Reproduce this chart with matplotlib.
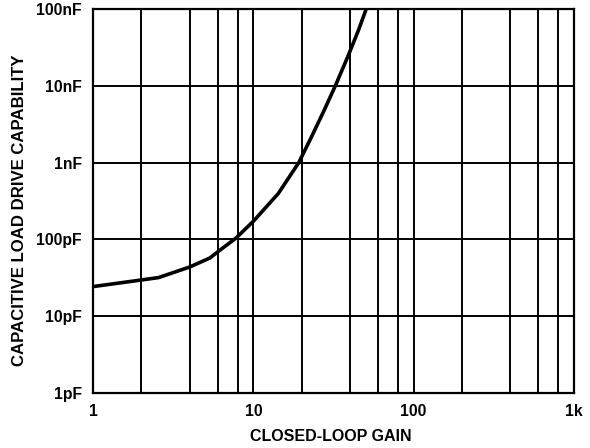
import matplotlib
matplotlib.use("Agg")
import matplotlib.pyplot as plt
from matplotlib.ticker import FixedLocator, NullFormatter

# Data
gain = [1, 2, 2.56, 4, 5.35, 6.15, 7.8, 10, 14.3, 19.2, 23, 27.5, 32.7, 39.1, 45.2, 50.5]
cap_pF = [24.2, 29.5, 31.7, 43.5, 57, 71.5, 104, 172, 395, 1000, 2150, 4700, 10400, 25000, 53000, 100000]

x_ticks = [1, 10, 100, 1000]
x_tick_labels = ["1", "10", "100", "1k"]
x_minor = [2, 4, 6, 8, 20, 40, 60, 80, 200, 400, 600, 800]
y_ticks = [1, 10, 100, 1000, 10000, 100000]
y_tick_labels = ["1pF", "10pF", "100pF", "1nF", "10nF", "100nF"]

plt.rcParams['font.family'] = ['Liberation Sans', 'DejaVu Sans']
plt.rcParams['font.weight'] = 'bold'

fig = plt.figure(figsize=(5.9, 4.48), dpi=100)
ax = fig.add_axes([93/590, (448-392.7)/448, 481/590, 383.4/448])

ax.set_xscale('log')
ax.set_yscale('log')
ax.set_xlim(1, 1000)
ax.set_ylim(1, 100000)

ax.plot(gain, cap_pF, color='black', lw=2.6, solid_capstyle='butt',
        solid_joinstyle='round', zorder=3, clip_on=True)

ax.xaxis.set_major_locator(FixedLocator(x_ticks))
ax.set_xticklabels(x_tick_labels)
ax.xaxis.set_minor_locator(FixedLocator(x_minor))
ax.xaxis.set_minor_formatter(NullFormatter())
ax.yaxis.set_major_locator(FixedLocator(y_ticks))
ax.set_yticklabels(y_tick_labels)
ax.yaxis.set_minor_locator(FixedLocator([]))

ax.grid(True, which='both', axis='x', color='black', lw=1.4)
ax.grid(True, which='major', axis='y', color='black', lw=1.4)
ax.set_axisbelow(True)

ax.tick_params(which='both', length=0)
ax.tick_params(axis='x', pad=8, labelsize=11.3)
ax.tick_params(axis='y', pad=8, labelsize=11.3)
for lbl in ax.get_xticklabels() + ax.get_yticklabels():
    lbl.set_fontweight('bold')

for s in ax.spines.values():
    s.set_linewidth(1.6)
    s.set_color('black')

ax.set_xlabel('CLOSED-LOOP GAIN', fontsize=11.5, fontweight='bold')
ax.xaxis.set_label_coords(0.495, -0.1155)
ax.xaxis.label.set_va('center')
ax.set_ylabel('CAPACITIVE LOAD DRIVE CAPABILITY', fontsize=12.1, fontweight='bold')
ax.yaxis.set_label_coords(-0.1528, 0.477)
ax.yaxis.label.set_va('center')

fig.savefig('out.png', dpi=100)
